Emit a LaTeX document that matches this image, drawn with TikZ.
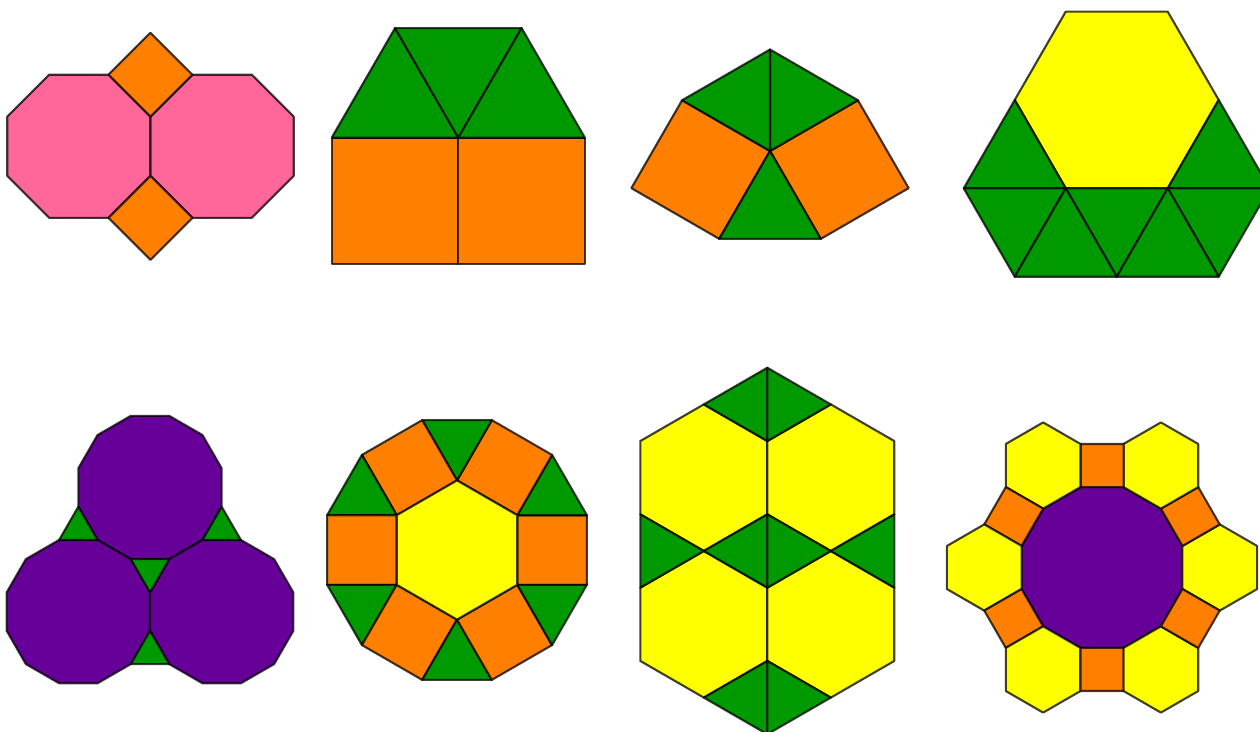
\documentclass[tikz,border=0pt]{standalone}
\definecolor{rose}{HTML}{FF6699}
\definecolor{orangetile}{HTML}{FF8000}
\definecolor{greentile}{HTML}{009900}
\definecolor{yellowtile}{HTML}{FFFF00}
\definecolor{purpletile}{HTML}{660099}
\begin{document}
\begin{tikzpicture}[x=0.02cm,y=0.02cm,
  tile/.style={draw=black,draw opacity=0.75,line width=1.2pt,line join=round}]

\useasboundingbox (0,0) rectangle (1260,731);

% Octogones et carrés
\begin{scope}[shift={(150.5,584.7)}]

\foreach \c in {-71.6,71.6}
{
\begin{scope}[shift={(\c,0)}]
\filldraw[tile,fill=rose] (22.5:77.5)
  \foreach \k in {1,...,7} { -- ({22.5+45*\k}:77.5) } -- cycle;
\end{scope}
}

\foreach \y in {71.6,-71.6}
{
\filldraw[tile,fill=orangetile] (41.9,\y) -- ++(135:59.3) -- ++(225:59.3) -- ++(315:59.3) -- cycle;
}

\end{scope}

% Carrés et triangles
\begin{scope}[shift={(331.7,466.7)}]

\foreach \x in {0,126.6}
{
\filldraw[tile,fill=orangetile] (\x,0) -- ++(126.6,0) -- ++(0,126.6) -- ++(-126.6,0) -- cycle;
}

\foreach \x/\y/\h in {0/126.6/109.6,63.3/236.2/-109.6,126.6/126.6/109.6}
{
\filldraw[tile,fill=greentile] (\x,\y) -- ++(126.6,0) -- ++(-63.3,\h) -- cycle;
}

\end{scope}

% Sommet 3.3.4.3.4
\begin{scope}[shift={(770,580)}]

\filldraw[tile,fill=orangetile] (0,0) -- (150:101.5) -- ++(240:101.5) -- (240:101.5) -- cycle;
\filldraw[tile,fill=orangetile] (0,0) -- (30:101.5) -- ++(300:101.5) -- (300:101.5) -- cycle;

\foreach \a in {30,90,240}
{
\filldraw[tile,fill=greentile] (0,0) -- (\a:101.5) -- ({\a+60}:101.5) -- cycle;
}

\end{scope}

% Hexagone et triangles
\begin{scope}[shift={(1116.7,631)}]

\filldraw[tile,fill=yellowtile] (0:102)
  \foreach \k in {1,...,5} { -- ({60*\k}:102) } -- cycle;

\filldraw[tile,fill=greentile] (180:102) -- (240:102) -- ++(180:102) -- cycle;
\filldraw[tile,fill=greentile] (0:102) -- (300:102) -- ++(0:102) -- cycle;

\foreach \x in {-102,0,102}
{
\filldraw[tile,fill=greentile] ({\x-51},-88.3) -- ({\x+51},-88.3) -- (\x,-176.7) -- cycle;
}
\foreach \x in {-51,51}
{
\filldraw[tile,fill=greentile] ({\x-51},-176.7) -- ({\x+51},-176.7) -- (\x,-88.3) -- cycle;
}

\end{scope}

% Dodécagones et triangles
\begin{scope}[shift={(150,243.5)}]

\foreach \x/\y in {0/0,-71.66/-124.1,71.66/-124.1}
{
\begin{scope}[shift={(\x,\y)}]
\filldraw[tile,fill=purpletile] (15:74.2)
  \foreach \k in {1,...,11} { -- ({15+30*\k}:74.2) } -- cycle;
\end{scope}
}

\foreach \x/\y/\h in {
0/-104.92/33.26,
-71.66/-19.2/-33.26,
71.66/-19.2/-33.26,
0/-143.3/-33.26
}
{
\filldraw[tile,fill=greentile] (\x,\y) -- ({\x-19.2},{\y+\h}) -- ({\x+19.2},{\y+\h}) -- cycle;
}

\end{scope}

% Hexagone, carrés et triangles
\begin{scope}[shift={(457,181)}]

\foreach \a in {0,60,...,300}
{
\filldraw[tile,fill=orangetile] ({\a-30}:69.6) -- ++(\a:69.6) -- ++({\a+90}:69.6) -- ({\a+30}:69.6) -- cycle;
\filldraw[tile,fill=greentile] ({\a+30}:69.6) -- +(\a:69.6) -- +({\a+60}:69.6) -- cycle;
}

\filldraw[tile,fill=yellowtile] (30:69.6)
  \foreach \k in {1,...,5} { -- ({30+60*\k}:69.6) } -- cycle;

\end{scope}

% Hexagones et triangles
\begin{scope}[shift={(767.3,180)}]

\foreach \x/\y in {-63.5/73.3,63.5/73.3,-63.5/-73.3,63.5/-73.3}
{
\begin{scope}[shift={(\x,\y)}]
\filldraw[tile,fill=yellowtile] (30:73.3)
  \foreach \k in {1,...,5} { -- ({30+60*\k}:73.3) } -- cycle;
\end{scope}
}

\foreach \v/\p/\m in {
0/-63.5/146.6,0/63.5/146.6,
0/-63.5/0,0/63.5/0,
-127/-63.5/0,127/63.5/0,
0/-63.5/-146.6,0/63.5/-146.6
}
{
\filldraw[tile,fill=greentile] (\v,{\m-36.65}) -- (\p,\m) -- (\v,{\m+36.65}) -- cycle;
}

\end{scope}

% Dodécagone, carrés et hexagones
\begin{scope}[shift={(1102,163.5)}]

\filldraw[tile,fill=purpletile] (15:83.26)
  \foreach \k in {1,...,11} { -- ({15+30*\k}:83.26) } -- cycle;

\foreach \a in {0,60,...,300}
{
\begin{scope}[shift={(\a:117.75)}]
\filldraw[tile,fill=yellowtile] (30:43.1)
  \foreach \k in {1,...,5} { -- ({30+60*\k}:43.1) } -- cycle;
\end{scope}
\filldraw[tile,fill=orangetile] ({\a+15}:83.26) -- ++({\a+30}:43.1) -- ++({\a+120}:43.1) -- ({\a+45}:83.26) -- cycle;
}

\end{scope}

\end{tikzpicture}
\end{document}
